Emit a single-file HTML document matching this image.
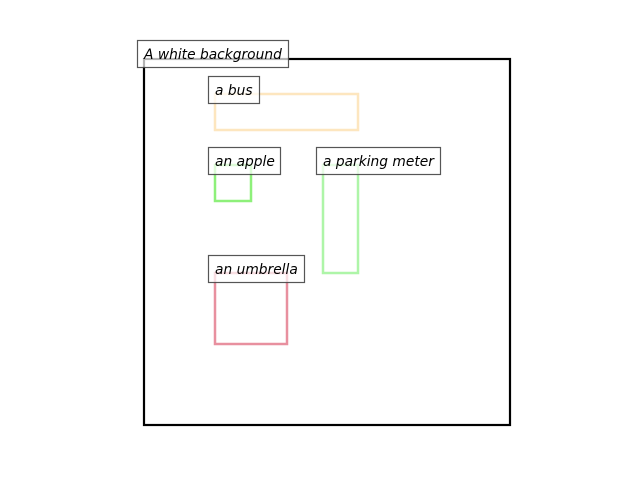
<!DOCTYPE html>
<html><head><meta charset="utf-8"><style>
html,body{margin:0;padding:0;background:#fff;width:640px;height:480px;overflow:hidden}
text{font-family:"DejaVu Sans","Liberation Sans",sans-serif;font-style:italic;font-size:13.8px;fill:#000}
</style></head><body>
<svg width="640" height="480" viewBox="0 0 640 480" xmlns="http://www.w3.org/2000/svg">
<rect x="144" y="59" width="366" height="366" fill="none" stroke="#000" stroke-width="2.2"/>
<rect x="215" y="94" width="143" height="36" fill="none" stroke="#fde6bf" stroke-width="2.5"/>
<rect x="215" y="165" width="36" height="36" fill="none" stroke="#8ef07a" stroke-width="2.5"/>
<rect x="323" y="165" width="35" height="108" fill="none" stroke="#aef5a8" stroke-width="2.5"/>
<rect x="215" y="273" width="72" height="71" fill="none" stroke="#e8909f" stroke-width="2.5"/>
<g fill="#fff" fill-opacity="0.7" stroke="#444" stroke-opacity="0.9" stroke-width="1.2">
<rect x="137.5" y="40.5" width="151" height="27"/>
<rect x="208.5" y="76.5" width="51" height="27"/>
<rect x="208.5" y="147.5" width="72" height="27"/>
<rect x="316.5" y="147.5" width="124" height="27"/>
<rect x="208.5" y="255.5" width="96" height="27"/>
</g>
<text x="144" y="59">A white background</text>
<text x="215" y="95">a bus</text>
<text x="215" y="166">an apple</text>
<text x="323" y="166">a parking meter</text>
<text x="215" y="274">an umbrella</text>
</svg>
</body></html>
